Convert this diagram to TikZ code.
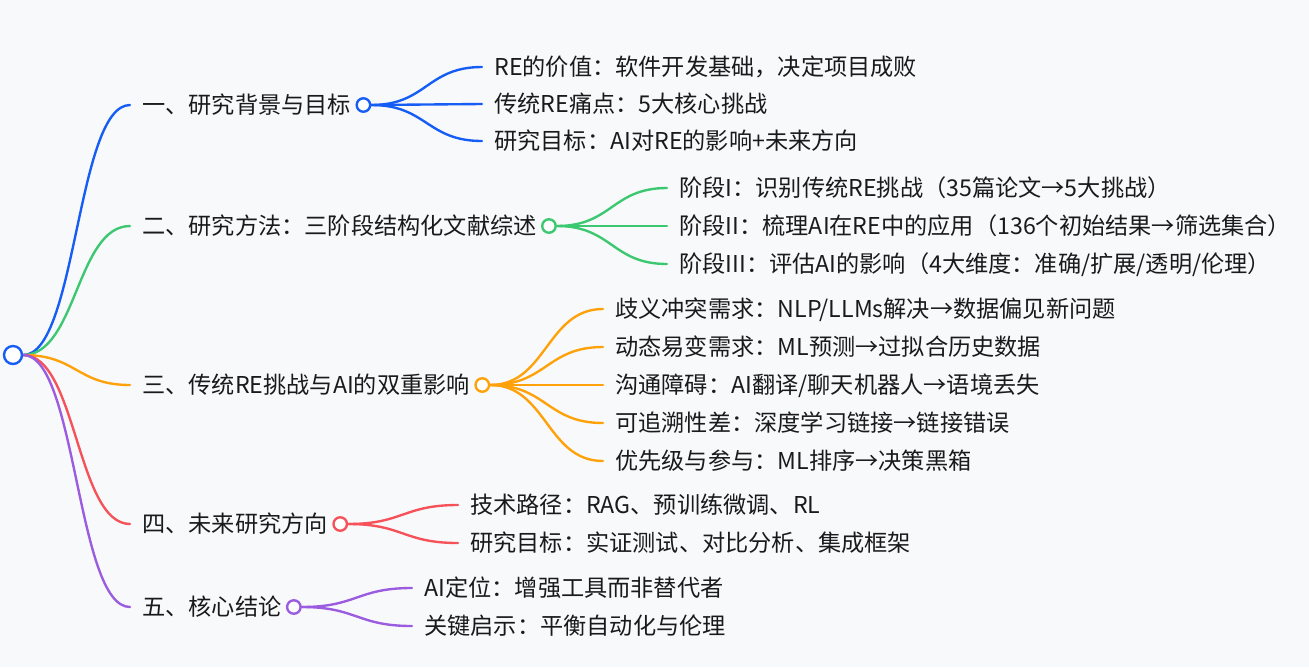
\documentclass[tikz,border=0pt]{standalone}
\usepackage{fontspec}
\newfontfamily\cjk{Noto Sans CJK SC}
\usepackage{tikz}
\usetikzlibrary{calc,backgrounds}
\definecolor{bgc}{HTML}{F8F9FB}
\definecolor{txt}{HTML}{1A1A1A}
\definecolor{cblue}{HTML}{165DF5}
\definecolor{cgreen}{HTML}{3CC870}
\definecolor{corange}{HTML}{FFA20A}
\definecolor{cred}{HTML}{F5525A}
\definecolor{cpurple}{HTML}{9B5CE0}
\tikzset{
  sec/.style  = {anchor=west, inner xsep=0.24cm, inner ysep=0pt, text=txt,
                 font=\cjk\fontsize{13.2pt}{16pt}\selectfont,
                 text height=11pt, text depth=1pt},
  leaf/.style = {sec},
  hub/.style  = {circle, draw=#1, fill=white, line width=1.35pt,
                 minimum size=0.27cm, inner sep=0pt},
  link/.style = {line width=1.35pt, line cap=round,
                 to path={let \p1=(\tikztostart), \p2=(\tikztotarget) in
                   .. controls ({(\x1+\x2)/2},\y1) and ({(\x1+\x2)/2},\y2)
                   .. (\tikztotarget)}},
}

\begin{document}
\begin{tikzpicture}[x=0.02cm, y=-0.02cm]
\useasboundingbox (0,0) rectangle (1309,667);

%% ---- root ------------------------------------------------------------
\node[hub=cblue, minimum size=0.36cm] (root) at (13,355) {};

%% ---- five sections ---------------------------------------------------
\node[sec] (s1) at (130,105) {一、研究背景与目标};
\node[sec] (s2) at (130,226) {二、研究方法：三阶段结构化文献综述};
\node[sec] (s3) at (130,385) {三、传统RE挑战与AI的双重影响};
\node[sec] (s4) at (130,524) {四、未来研究方向};
\node[sec] (s5) at (130,607) {五、核心结论};

\node[hub=cblue]   (k1) at (s1.east) {};
\node[hub=cgreen]  (k2) at (s2.east) {};
\node[hub=corange] (k3) at (s3.east) {};
\node[hub=cred]    (k4) at (s4.east) {};
\node[hub=cpurple] (k5) at (s5.east) {};

%% ---- leaves ----------------------------------------------------------
\node[leaf] (s1a) at (482,67)  {RE的价值：软件开发基础，决定项目成败};
\node[leaf] (s1b) at (482,104) {传统RE痛点：5大核心挑战};
\node[leaf] (s1c) at (482,141) {研究目标：AI对RE的影响+未来方向};

\node[leaf] (s2a) at (667,188) {阶段I：识别传统RE挑战（35篇论文→5大挑战）};
\node[leaf] (s2b) at (667,226) {阶段II：梳理AI在RE中的应用（136个初始结果→筛选集合）};
\node[leaf] (s2c) at (667,264) {阶段III：评估AI的影响（4大维度：准确/扩展/透明/伦理）};

\node[leaf] (s3a) at (603,309) {歧义冲突需求：NLP/LLMs解决→数据偏见新问题};
\node[leaf] (s3b) at (603,347) {动态易变需求：ML预测→过拟合历史数据};
\node[leaf] (s3c) at (603,385) {沟通障碍：AI翻译/聊天机器人→语境丢失};
\node[leaf] (s3d) at (603,423) {可追溯性差：深度学习链接→链接错误};
\node[leaf] (s3e) at (603,461) {优先级与参与：ML排序→决策黑箱};

\node[leaf] (s4a) at (458,505) {技术路径：RAG、预训练微调、RL};
\node[leaf] (s4b) at (458,543) {研究目标：实证测试、对比分析、集成框架};

\node[leaf] (s5a) at (412,588) {AI定位：增强工具而非替代者};
\node[leaf] (s5b) at (412,626) {关键启示：平衡自动化与伦理};

%% ---- links (behind the hubs) -----------------------------------------
\begin{scope}[on background layer]
\fill[bgc] (0,0) rectangle (1309,667);

\draw[link, cblue]   (root.east) to (s1.west);
\draw[link, cgreen]  (root.east) to (s2.west);
\draw[link, corange] (root.east) to (s3.west);
\draw[link, cred]    (root.east) to (s4.west);
\draw[link, cpurple] (root.east) to (s5.west);

\draw[link, cblue] (k1.east) to (s1a.west);
\draw[link, cblue] (k1.east) to (s1b.west);
\draw[link, cblue] (k1.east) to (s1c.west);

\draw[link, cgreen] (k2.east) to (s2a.west);
\draw[link, cgreen] (k2.east) to (s2b.west);
\draw[link, cgreen] (k2.east) to (s2c.west);

\draw[link, corange] (k3.east) to (s3a.west);
\draw[link, corange] (k3.east) to (s3b.west);
\draw[link, corange] (k3.east) to (s3c.west);
\draw[link, corange] (k3.east) to (s3d.west);
\draw[link, corange] (k3.east) to (s3e.west);

\draw[link, cred] (k4.east) to (s4a.west);
\draw[link, cred] (k4.east) to (s4b.west);

\draw[link, cpurple] (k5.east) to (s5a.west);
\draw[link, cpurple] (k5.east) to (s5b.west);
\end{scope}
\end{tikzpicture}
\end{document}
